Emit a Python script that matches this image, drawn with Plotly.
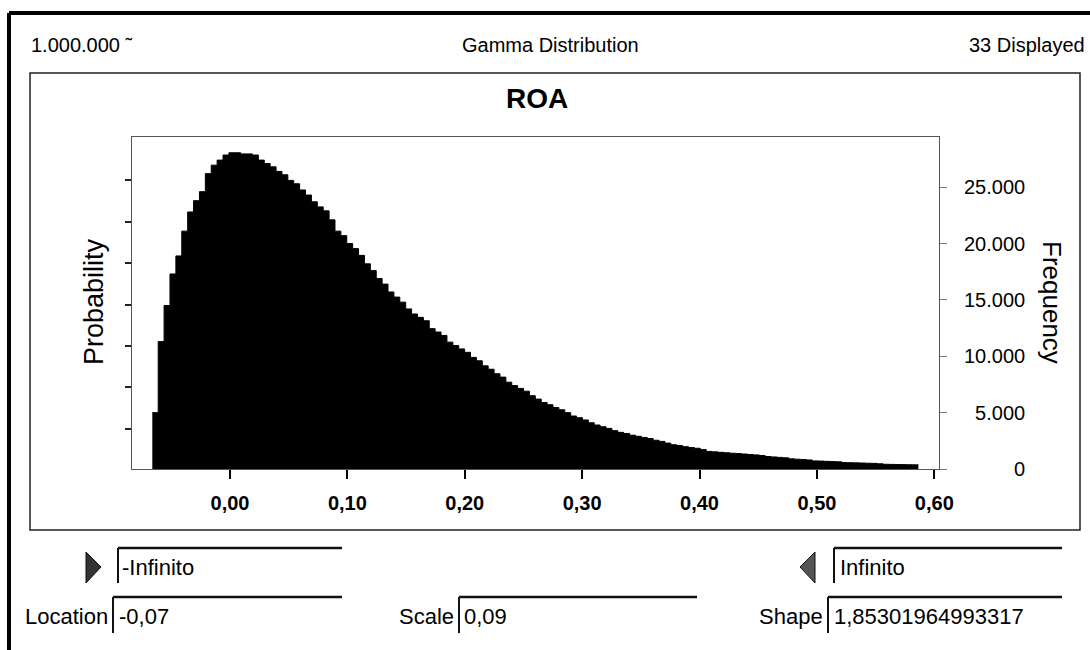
import plotly.graph_objects as go

# ---------------- data ----------------
bin_start = -0.0662      # left edge of the first histogram bin
bin_width = 0.00502      # width of each bin
frequency = [
    5000, 11300, 14500, 17300, 18900, 21100, 22800, 23800, 24600, 26200,
    26950, 27400, 27850, 28050, 28050, 27950, 27950, 27850, 27400, 27100,
    26800, 26400, 26100, 25600, 25300, 24750, 24300, 23700, 23250, 22900,
    22100, 21100, 20700, 20000, 19550, 18950, 18200, 17600, 16900, 16400,
    15700, 15250, 14800, 14200, 13750, 13450, 13150, 12450, 12150, 11850,
    11250, 10950, 10650, 10350, 9900, 9600, 9150, 8850, 8450, 8150,
    7700, 7400, 7150, 6900, 6500, 6200, 5900, 5700, 5450, 5250,
    5000, 4700, 4550, 4350, 4100, 3900, 3750, 3600, 3400, 3250,
    3150, 3000, 2900, 2800, 2700, 2550, 2450, 2300, 2150, 2080,
    1980, 1900, 1840, 1720, 1560, 1520, 1480, 1440, 1400, 1370,
    1330, 1290, 1250, 1200, 1110, 1070, 1030, 990, 900, 870,
    840, 800, 720, 700, 680, 660, 640, 570, 560, 545,
    530, 515, 500, 460, 420, 410, 400, 390, 380, 370,
]
bin_edges = [round(bin_start + bin_width * i, 5) for i in range(len(frequency) + 1)]

x_tick_vals = [0.0, 0.1, 0.2, 0.3, 0.4, 0.5, 0.6]
x_tick_text = ["0,00", "0,10", "0,20", "0,30", "0,40", "0,50", "0,60"]
freq_tick_vals = [0, 5000, 10000, 15000, 20000, 25000]
freq_tick_text = ["\u2007\u2007\u2007\u2007\u20080", "\u20075.000", "10.000", "15.000", "20.000", "25.000"]
prob_tick_freq = [3550, 7230, 10910, 14590, 18270, 21950, 25630]   # unlabeled probability ticks
x_range = [-0.0835, 0.604]
y_range = [0, 29450]

header_left = "1.000.000 \u02dc"
header_mid = "Gamma Distribution"
header_right = "33 Displayed"
chart_title = "ROA"
lower_bound = "-Infinito"
upper_bound = "Infinito"
params = [("Location", "-0,07"), ("Scale", "0,09"), ("Shape", "1,85301964993317")]

# ---------------- layout geometry (pixels) ----------------
FW, FH = 1090, 650
L, R, T, B = 132, 939, 137, 469
PW, PH = R - L, B - T

def px(x):
    return (x - L) / PW

def py(y):
    return (B - y) / PH

FONT = "Liberation Sans, Arial, sans-serif"

fig = go.Figure()
# histogram drawn as a solid stepped silhouette
fig.add_trace(go.Scatter(
    x=bin_edges, y=frequency + [frequency[-1]],
    mode="lines", line=dict(shape="hv", color="black", width=1),
    fill="tozeroy", fillcolor="black",
    yaxis="y", hoverinfo="x+y", showlegend=False,
))
# invisible trace so the right frequency axis is drawn
fig.add_trace(go.Scatter(x=[bin_edges[0]], y=[0], mode="markers",
                         marker=dict(opacity=0), yaxis="y2",
                         hoverinfo="skip", showlegend=False))

shapes = []
def line(x0, y0, x1, y1, w=1.5, c="black"):
    shapes.append(dict(type="line", xref="paper", yref="paper",
                       x0=px(x0), y0=py(y0), x1=px(x1), y1=py(y1),
                       line=dict(color=c, width=w)))

# outer window border
line(9, 13, 1095, 13, w=4)
line(9, 13, 9, 660, w=4)
# inner chart panel
shapes.append(dict(type="rect", xref="paper", yref="paper",
                   x0=px(30), y0=py(73), x1=px(1080), y1=py(530),
                   line=dict(color="#222", width=1.5)))
# entry boxes (sunken: dark top & left edges)
boxes = [(118, 548, 342, 583), (834, 548, 1062, 583),
         (113, 597, 342, 633), (459, 597, 697, 633), (828, 597, 1062, 633)]
for (x0, y0, x1, y1) in boxes:
    line(x0, y0, x1, y0, w=2.5, c="#111")
    line(x0, y0, x0, y1, w=2, c="#111")
# arrows
shapes.append(dict(type="path", xref="paper", yref="paper",
                   path="M {} {} L {} {} L {} {} Z".format(px(86), py(552), px(101), py(567), px(86), py(583)),
                   fillcolor="#333", line=dict(color="#111", width=1)))
shapes.append(dict(type="path", xref="paper", yref="paper",
                   path="M {} {} L {} {} L {} {} Z".format(px(815), py(552), px(800), py(567), px(815), py(583)),
                   fillcolor="#555", line=dict(color="#111", width=1)))

ann = []
def text(t, x, y, anchor="left", size=21, bold=False, angle=0):
    ann.append(dict(text=("<b>%s</b>" % t) if bold else t, xref="paper", yref="paper",
                    x=px(x), y=py(y), xanchor=anchor, yanchor="middle",
                    showarrow=False, textangle=angle,
                    font=dict(family=FONT, size=size, color="black")))

text(header_left, 29, 45, size=20)
text(header_mid, 550, 45, anchor="center", size=20)
text(header_right, 1087, 45, anchor="right", size=20)
text(chart_title, 537, 98, anchor="center", size=28, bold=True)
text("Probability", 94, 302, anchor="center", size=27, angle=-90)
text("Frequency", 1052, 302, anchor="center", size=26, angle=90)
text(lower_bound, 120, 567, size=22)
text(upper_bound, 838, 567, size=22)
text(params[0][0], 110, 616, anchor="right", size=22)
text(params[0][1], 117, 616, size=22)
text(params[1][0], 456, 616, anchor="right", size=22)
text(params[1][1], 462, 616, size=22)
text(params[2][0], 825, 616, anchor="right", size=22)
text(params[2][1], 832, 616, size=22)

fig.update_layout(
    width=FW, height=FH,
    margin=dict(l=L, r=FW - R, t=T, b=FH - B),
    paper_bgcolor="white", plot_bgcolor="white",
    showlegend=False,
    shapes=shapes, annotations=ann,
    font=dict(family=FONT, color="black"),
    xaxis=dict(range=x_range, tickvals=x_tick_vals, ticktext=x_tick_text,
               ticks="outside", ticklen=9, tickwidth=2, tickcolor="black",
               showgrid=False, zeroline=False, showline=True, linecolor="#555",
               linewidth=1, mirror=True, ticklabelstandoff=7,
               tickfont=dict(family=FONT, size=20, color="black", weight="bold")),
    yaxis=dict(range=y_range, tickvals=prob_tick_freq, showticklabels=False,
               ticks="outside", ticklen=6, tickwidth=1.5, tickcolor="#222",
               showgrid=False, zeroline=False, showline=True, linecolor="#555",
               linewidth=1, mirror=True),
    yaxis2=dict(range=y_range, overlaying="y", side="right",
                tickvals=freq_tick_vals, ticktext=freq_tick_text,
                ticks="outside", ticklen=7, tickwidth=1, tickcolor="#777",
                showgrid=False, zeroline=False, showline=False,
                ticklabelstandoff=13,
                tickfont=dict(family=FONT, size=20, color="black")),
)

fig.write_html("out.html", config={"displayModeBar": False},
               post_script="document.body.style.margin='0';document.body.style.overflow='hidden';")
